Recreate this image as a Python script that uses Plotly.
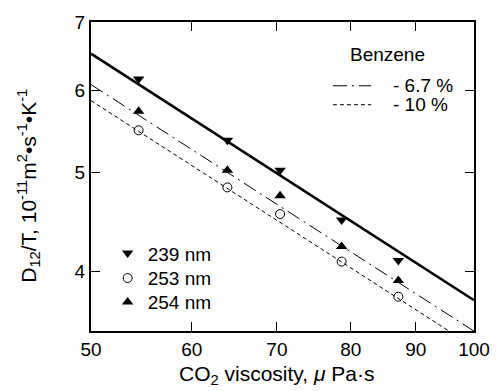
import numpy as np
import plotly.graph_objects as go

# CO2 viscosity (μPa·s) at each measurement condition
viscosity = [54.5, 64.0, 70.4, 78.7, 87.2]

# D12/T (10^-11 m^2 s^-1 K^-1) for each wavelength
d_239 = [6.16, 5.37, 5.02, 4.49, 4.10]
d_253 = [5.49, 4.83, 4.55, 4.09, 3.78]
d_254 = [5.73, 5.02, 4.74, 4.23, 3.92]

# Benzene reference correlation (end points) and its offset copies
ref_x = [50, 100]
ref_y = [6.52, 3.75]
offsets = [-6.7, -10]
offset_labels = ["- 6.7 %", "- 10 %"]
offset_dash = ["14px,5px,2px,5px", "4px,3px"]

x_ticks = [50, 60, 70, 80, 90, 100]
y_ticks = [4, 5, 6, 7]

FONT = "Liberation Sans, Arial, Helvetica, sans-serif"
W, H = 502, 391
ML, MR, MT, MB = 91, 20, 21, 60
PW, PH = W - ML - MR, H - MT - MB


def px_x(p):
    return (p - ML) / PW


def px_y(p):
    return (H - MB - p) / PH


fig = go.Figure()

# correlation line and its shifted copies
fig.add_trace(go.Scatter(x=ref_x, y=ref_y, mode="lines",
                         line=dict(color="black", width=2.5), showlegend=False))
for off, dash in zip(offsets, offset_dash):
    fig.add_trace(go.Scatter(x=ref_x, y=list(np.array(ref_y) * (1 + off / 100)),
                             mode="lines", line=dict(color="black", width=1, dash=dash),
                             showlegend=False))

# measured points, each with its own key row
series = [
    ("239 nm", d_239, dict(symbol="triangle-down", size=10, color="black"), "legend"),
    ("253 nm", d_253, dict(symbol="circle-open", size=9, color="black",
                           line=dict(width=1, color="black")), "legend2"),
    ("254 nm", d_254, dict(symbol="triangle-up", size=10, color="black"), "legend3"),
]
for name, vals, marker, leg in series:
    fig.add_trace(go.Scatter(x=viscosity, y=vals, mode="markers", name=name,
                             marker=marker, legend=leg))

axis_common = dict(showline=True, linecolor="black", linewidth=2, mirror="ticks",
                   ticks="inside", ticklen=9, tickwidth=1.2, tickcolor="black",
                   showgrid=False, zeroline=False,
                   tickfont=dict(family=FONT, size=19, color="black"))

fig.update_xaxes(type="log", range=[np.log10(50), np.log10(100)],
                 tickvals=x_ticks, ticktext=[str(v) for v in x_ticks], **axis_common)
fig.update_yaxes(type="log", range=[np.log10(3.5), np.log10(7)],
                 tickvals=y_ticks, ticktext=[str(v) for v in y_ticks], **axis_common)

annotations = [
    dict(text="CO<sub>2</sub> viscosity, <i>μ</i> Pa·s", x=px_x(281), y=px_y(375),
         xref="paper", yref="paper", xanchor="center", yanchor="middle",
         showarrow=False, font=dict(family=FONT, size=21, color="black")),
    dict(text="D<sub>12</sub>/T, 10<sup>-11</sup>m<sup>2</sup>•s<sup>-1</sup>•K<sup>-1</sup>",
         x=px_x(27), y=px_y(185), xref="paper", yref="paper", textangle=-90,
         xanchor="center", yanchor="middle", showarrow=False,
         font=dict(family=FONT, size=21, color="black")),
    dict(text="Benzene", x=px_x(353), y=px_y(54), xref="paper", yref="paper",
         xanchor="left", yanchor="middle", showarrow=False,
         font=dict(family=FONT, size=19, color="black")),
]
shapes = []
for lab, dash, py in zip(offset_labels, offset_dash, [85, 104]):
    annotations.append(dict(text=lab, x=px_x(397), y=px_y(py), xref="paper", yref="paper",
                            xanchor="left", yanchor="middle", showarrow=False,
                            font=dict(family=FONT, size=19, color="black")))
    shapes.append(dict(type="line", xref="paper", yref="paper",
                       x0=px_x(338), x1=px_x(377), y0=px_y(py), y1=px_y(py),
                       line=dict(color="black", width=1, dash=dash)))

legend_style = dict(xanchor="left", yanchor="middle", bgcolor="rgba(0,0,0,0)",
                    borderwidth=0, font=dict(family=FONT, size=19, color="black"))

fig.update_layout(
    width=W, height=H,
    margin=dict(l=ML, r=MR, t=MT, b=MB),
    paper_bgcolor="white", plot_bgcolor="white",
    font=dict(family=FONT, size=19, color="black"),
    legend=dict(x=px_x(108), y=px_y(253), **legend_style),
    legend2=dict(x=px_x(108), y=px_y(278), **legend_style),
    legend3=dict(x=px_x(108), y=px_y(302), **legend_style),
    annotations=annotations,
    shapes=shapes,
)

fig.write_html("out.html")
